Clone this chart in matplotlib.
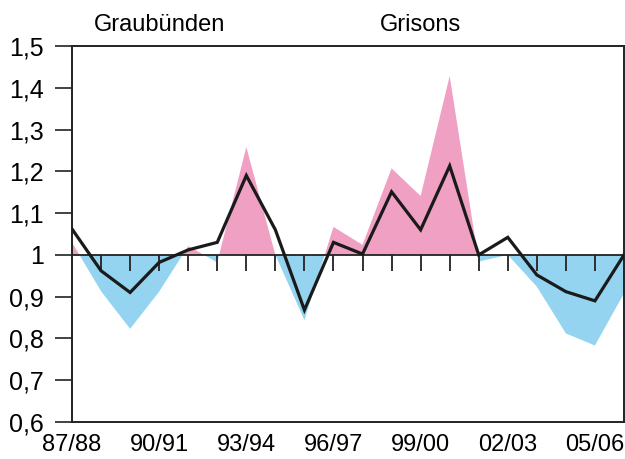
import numpy as np
import matplotlib.pyplot as plt

plt.rcParams['font.family'] = ['Liberation Sans Narrow', 'Liberation Sans', 'DejaVu Sans']

seasons = ['87/88', '88/89', '89/90', '90/91', '91/92', '92/93', '93/94', '94/95',
           '95/96', '96/97', '97/98', '98/99', '99/00', '00/01', '01/02', '02/03',
           '03/04', '04/05', '05/06', '06/07']
# shaded series (Graubünden) and black line (Grisons)
graubuenden = [1.03, 0.913, 0.823, 0.912, 1.021, 0.982, 1.258, 1.0, 0.844, 1.067,
               1.024, 1.207, 1.141, 1.428, 0.984, 1.0, 0.924, 0.812, 0.783, 0.908]
grisons = [1.062, 0.962, 0.91, 0.982, 1.012, 1.03, 1.19, 1.06, 0.868, 1.03,
           1.002, 1.151, 1.06, 1.213, 1.0, 1.042, 0.952, 0.912, 0.89, 1.0]
yticks = [0.6, 0.7, 0.8, 0.9, 1.0, 1.1, 1.2, 1.3, 1.4, 1.5]
ytick_labels = ['0,6', '0,7', '0,8', '0,9', '1', '1,1', '1,2', '1,3', '1,4', '1,5']

pink = '#F0A0C2'
blue = '#94D4F1'

x = np.arange(len(seasons))
g = np.array(graubuenden)

fig = plt.figure(figsize=(6.25, 4.59), dpi=100)
ax = fig.add_axes([0.1152, 0.0806, 0.8832, 0.8192])

ax.fill_between(x, g, 1, where=g >= 1, interpolate=True, color=pink, lw=0)
ax.fill_between(x, g, 1, where=g <= 1, interpolate=True, color=blue, lw=0)

# baseline at 1 with small downward ticks
ax.axhline(1, color='#222222', lw=1.3, zorder=3)
ax.vlines(x[1:-1], 1 - 0.038, 1, color='#222222', lw=1.3, zorder=3)

ax.plot(x, grisons, color='#1a1a1a', lw=2.3, zorder=4, solid_joinstyle='miter')

ax.set_xlim(0, len(seasons) - 1)
ax.set_ylim(0.6, 1.5)
ax.set_yticks(yticks)
ax.set_yticklabels(ytick_labels)
ax.set_xticks(x[::3])
ax.set_xticklabels(seasons[::3])
ax.tick_params(axis='y', length=12, width=1.2, color='#222222', pad=8, labelsize=18)
ax.tick_params(axis='x', length=0, pad=8.5, labelsize=17)
for s in ax.spines.values():
    s.set_linewidth(1.4)
    s.set_color('#222222')

ax.text(3, 1.537, 'Graubünden', ha='center', va='baseline', fontsize=17)
ax.text(12, 1.537, 'Grisons', ha='center', va='baseline', fontsize=17)

fig.savefig('out.png', dpi=100)
